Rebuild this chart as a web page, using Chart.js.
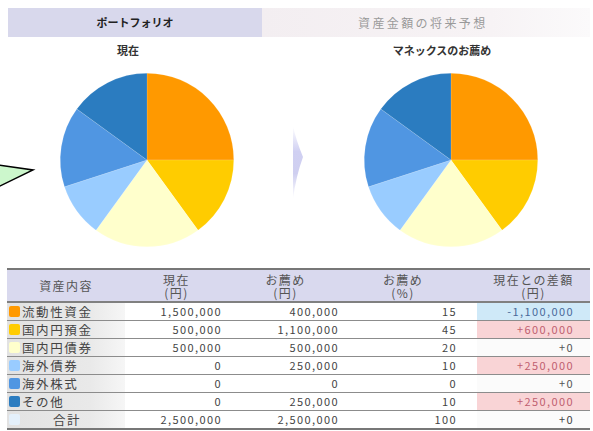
<!DOCTYPE html>
<html lang="ja">
<head>
<meta charset="utf-8">
<script src="https://cdn.jsdelivr.net/npm/chart.js@4.4.1/dist/chart.umd.min.js"></script>
<style>
  body { margin: 0; width: 593px; height: 431px; background: #fff; position: relative; overflow: hidden;
         font-family: "Noto Sans CJK JP", "Noto Sans", sans-serif; color: #333; }
  .abs { position: absolute; }
  .tab { top: 8px; height: 29px; line-height: 29px; font-size: 11px; font-weight: bold; text-align: center; }
  .sub { top: 42px; font-size: 11px; font-weight: bold; transform: translateX(-50%); white-space: nowrap; color: #333; }
  #tbl { left: 7px; top: 268px; width: 583px; border-top: 2px solid #777; }
  .row { display: flex; height: 17px; border-bottom: 1px solid #8c8c8c; font-size: 11px; line-height: 17px; letter-spacing: 1.4px; color: #444; }
  .row.head { height: 31px; line-height: 13px; background: #d9d9ee; border-bottom: 2px solid #808080; text-align: center; font-size: 12px; }
  .row.head > div { display: flex; flex-direction: column; justify-content: center; color: #555; }
  .c0 { width: 118px; position: relative; }
  .c1 { width: 103px; text-align: right; padding-right: 6px; box-sizing: border-box; }
  .c2 { width: 115px; text-align: right; padding-right: 4px; box-sizing: border-box; }
  .c3 { width: 120px; text-align: right; padding-right: 6px; box-sizing: border-box; }
  .c4 { width: 127px; text-align: right; padding-right: 16px; box-sizing: border-box; }
  .row.head .c1, .row.head .c2, .row.head .c3, .row.head .c4 { text-align: center; padding-right: 0; }
  .name { background: linear-gradient(to right, #e2e2e2, #e9e9e9 70%, #f6f6f6); }
  .sw { position: absolute; left: 2px; top: 3px; width: 11px; height: 11px; border-radius: 2px; }
  .lbl { position: absolute; left: 15px; top: 0; font-size: 12.5px; letter-spacing: 1.6px; }
</style>
</head>
<body>
<div class="abs tab" style="left:8px;width:254px;background:#d8d8ec;color:#222;">ポートフォリオ</div>
<div class="abs tab" style="left:262px;width:328px;background:linear-gradient(to right,#f3eef1,#f7f3f5 70%,#fbfafb);color:#9a9a9a;font-weight:normal;">
  <span style="position:absolute;left:96px;font-size:12px;letter-spacing:2.4px;">資産金額の将来予想</span></div>
<div class="abs sub" style="left:128px;">現在</div>
<div class="abs sub" style="left:442px;">マネックスのお薦め</div>

<svg class="abs" style="left:0;top:0;" width="593" height="260">
  <defs>
    <linearGradient id="chev" x1="0" y1="0" x2="0" y2="1">
      <stop offset="0" stop-color="#ffffff"/>
      <stop offset="0.35" stop-color="#d0d0f2"/>
      <stop offset="0.65" stop-color="#cfcff0"/>
      <stop offset="1" stop-color="#ffffff"/>
    </linearGradient>
  </defs>
  <polygon points="-2,165 33,170 -2,187" fill="#ccf7cc" stroke="#000" stroke-width="1.5"/>
  <path d="M293,126 Q296,140 303,157 Q296,176 293,199 Z" fill="url(#chev)"/>
</svg>

<canvas id="pieNow" class="abs" width="180" height="180" style="left:57px;top:70px;"></canvas>
<canvas id="pieRec" class="abs" width="180" height="180" style="left:361px;top:70px;"></canvas>

<div id="tbl" class="abs"></div>

<script>
// 資産クラス
const categories = ['流動性資金', '国内円預金', '国内円債券', '海外債券', '海外株式', 'その他'];
const sliceColors = ['#ff9900', '#ffcc00', '#ffffcc', '#99ccff', '#5096e2', '#2b7cc0'];

// 円グラフの構成比（絵から読み取り）
const currentShare = [25, 15, 20, 10, 15, 15];
const recommendShare = [25, 15, 20, 10, 15, 15];

// 表の値
const currentYen = ['1,500,000', '500,000', '500,000', '0', '0', '0'];
const recommendYen = ['400,000', '1,100,000', '500,000', '250,000', '0', '250,000'];
const recommendPct = ['15', '45', '20', '10', '0', '10'];
const diffYen = ['-1,100,000', '+600,000', '+0', '+250,000', '+0', '+250,000'];
const totals = ['2,500,000', '2,500,000', '100', '+0'];

function drawPie(id, values) {
    new Chart(document.getElementById(id), {
        type: 'pie',
        data: {
            labels: categories,
            datasets: [{
                data: values,
                backgroundColor: sliceColors,
                borderColor: 'rgba(255,255,255,0.25)',
                borderWidth: 0.5
            }]
        },
        options: {
            responsive: false,
            animation: false,
            layout: { padding: 3 },
            plugins: { legend: { display: false }, tooltip: { enabled: false } }
        }
    });
}

drawPie('pieNow', currentShare);
drawPie('pieRec', recommendShare);

// 表を組み立てる
function diffStyle(d) {
    if (d.startsWith('-')) return 'background:#cfe9f8;color:#4a6a9a;';
    if (d === '+0') return 'background:#fbfbfb;color:#555;';
    return 'background:#f9d4d6;color:#c06070;';
}

const tbl = document.getElementById('tbl');
let html = '<div class="row head">' +
    '<div class="c0">資産内容</div>' +
    '<div class="c1"><span>現在</span><span>(円)</span></div>' +
    '<div class="c2"><span>お薦め</span><span>(円)</span></div>' +
    '<div class="c3"><span>お薦め</span><span>(%)</span></div>' +
    '<div class="c4" style="padding-left:14px;"><span>現在との差額</span><span>(円)</span></div>' +
    '</div>';

categories.forEach((cat, i) => {
    html += '<div class="row">' +
        '<div class="c0 name"><span class="sw" style="background:' + sliceColors[i] + '"></span><span class="lbl">' + cat + '</span></div>' +
        '<div class="c1">' + currentYen[i] + '</div>' +
        '<div class="c2">' + recommendYen[i] + '</div>' +
        '<div class="c3">' + recommendPct[i] + '</div>' +
        '<div class="c4" style="margin-left:14px;width:113px;' + diffStyle(diffYen[i]) + '">' + diffYen[i] + '</div>' +
        '</div>';
});

html += '<div class="row" style="border-bottom:2px solid #777;">' +
    '<div class="c0 name"><span class="sw" style="background:#e4f0fb"></span><span class="lbl" style="left:46px;">合計</span></div>' +
    '<div class="c1">' + totals[0] + '</div>' +
    '<div class="c2">' + totals[1] + '</div>' +
    '<div class="c3">' + totals[2] + '</div>' +
    '<div class="c4" style="margin-left:14px;width:113px;background:#fbfbfb;">' + totals[3] + '</div>' +
    '</div>';

tbl.innerHTML = html;
</script>
</body>
</html>
